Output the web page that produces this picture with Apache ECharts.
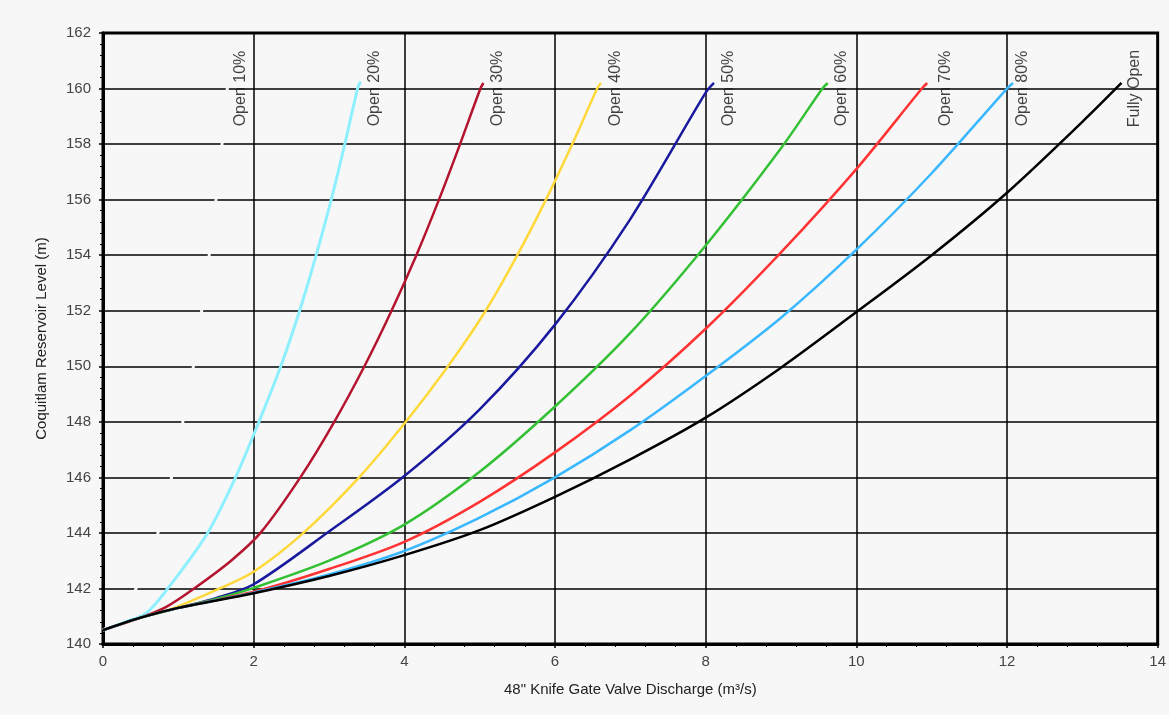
<!DOCTYPE html>
<html>
<head>
<meta charset="utf-8">
<script src="https://cdn.jsdelivr.net/npm/echarts@6/dist/echarts.min.js"></script>
<style>
  html, body { margin: 0; padding: 0; background: #f7f7f7; }
  #chart { width: 1169px; height: 715px; }
</style>
</head>
<body>
<div id="chart"></div>
<script>
// valve opening curves: discharge (m3/s) vs reservoir level (m)
const seriesNames = ['Open 10%', 'Open 20%', 'Open 30%', 'Open 40%', 'Open 50%', 'Open 60%', 'Open 70%', 'Open 80%', 'Fully Open'];

// the 10% curve is drawn in the background colour: it only shows where it cuts the grid
const open10X = [0, 0.2, 0.44, 0.73, 0.91, 1.06, 1.20, 1.31, 1.41, 1.50, 1.58, 1.65, 1.68];
const open10Y = [140.5, 140.9, 142, 144, 146, 148, 150, 152, 154, 156, 158, 160, 160.25];

const open20X = [0, 0.3, 0.57, 0.86, 1.39, 1.76, 2.07, 2.36, 2.61, 2.83, 3.03, 3.21, 3.38, 3.42];
const open20Y = [140.5, 140.8, 141.1, 142, 144, 146, 148, 150, 152, 154, 156, 158, 160, 160.25];

const open30X = [0, 0.5, 0.84, 1.21, 1.7, 2.09, 2.62, 3.07, 3.47, 3.83, 4.16, 4.46, 4.74, 5.01, 5.05];
const open30Y = [140.5, 140.95, 141.34, 142, 143, 144, 146, 148, 150, 152, 154, 156, 158, 160, 160.2];

const open40X = [0, 0.5, 0.9, 1.55, 2, 2.66, 3.40, 4.02, 4.58, 5.08, 5.50, 5.88, 6.23, 6.56, 6.61];
const open40Y = [140.5, 140.95, 141.25, 142, 142.6, 144, 146, 148, 150, 152, 154, 156, 158, 160, 160.2];

const open50X = [0, 0.5, 1, 1.5, 2, 3, 4, 5, 6, 7, 8, 8.11];
const open50Y = [140.5, 140.95, 141.3, 141.65, 142.15, 144.05, 146.05, 148.45, 151.5, 155.3, 159.85, 160.2];

const open60X = [0, 0.5, 1, 1.5, 2, 3, 4, 5, 6, 7, 8, 9, 9.55, 9.62];
const open60Y = [140.5, 140.95, 141.3, 141.62, 142.02, 143.0, 144.3, 146.2, 148.55, 151.2, 154.35, 157.85, 160, 160.2];

const open70X = [0, 0.5, 1, 2, 3, 4, 5, 6, 7, 8, 9, 10, 10.87, 10.94];
const open70Y = [140.5, 140.95, 141.3, 141.88, 142.7, 143.68, 145.12, 146.9, 148.95, 151.35, 154.1, 157.1, 160, 160.2];

const open80X = [0, 0.5, 1, 2, 3, 4, 5, 6, 7, 8, 9, 10, 11, 12, 12.08];
const open80Y = [140.5, 140.95, 141.3, 141.85, 142.5, 143.35, 144.55, 146.0, 147.7, 149.65, 151.75, 154.2, 156.95, 160.0, 160.2];

const fullX = [0, 0.5, 1, 2, 3, 4, 5, 6, 7, 8, 9, 10, 11, 12, 13, 13.52];
const fullY = [140.5, 140.95, 141.3, 141.83, 142.45, 143.2, 144.1, 145.3, 146.65, 148.15, 149.95, 151.95, 154.0, 156.25, 158.8, 160.2];

// where each curve's name is written (rotated text)
const labelX = [1.83, 3.61, 5.24, 6.80, 8.30, 9.80, 11.19, 12.21, 13.70];
const labelY = 160;

const xTicks = [0, 14, 2];   // min, max, interval
const yTicks = [140, 162, 2];

const bg = '#f7f7f7';
const colors = [bg, '#8ef0ff', '#b4142d', '#ffd83a', '#1a1a9e', '#34c034', '#ff3333', '#3ab8ff', '#000000'];
const allX = [open10X, open20X, open30X, open40X, open50X, open60X, open70X, open80X, fullX];
const allY = [open10Y, open20Y, open30Y, open40Y, open50Y, open60Y, open70Y, open80Y, fullY];

const pairs = (xs, ys) => xs.map((x, i) => [x, ys[i]]);

const font = '"Liberation Sans", Arial, sans-serif';

const lines = seriesNames.map((name, i) => ({
  name: name,
  type: 'line',
  data: pairs(allX[i], allY[i]),
  smooth: 0.3,
  showSymbol: false,
  lineStyle: { color: colors[i], width: i <= 1 ? 3 : 2.5 },
  z: 2 + i
}));

const labels = {
  type: 'scatter',
  symbolSize: 0,
  silent: true,
  data: seriesNames.map((n, i) => ({ name: n, value: [labelX[i], labelY] })),
  label: {
    show: true,
    position: 'inside',
    rotate: 90,
    formatter: p => p.name,
    color: '#111',
    fontFamily: font,
    fontSize: 16
  },
  z: 20
};

const chart = echarts.init(document.getElementById('chart'), null, { renderer: 'canvas' });
chart.setOption({
  animation: false,
  backgroundColor: bg,
  grid: {
    left: 103, top: 33, width: 1057, height: 611,
    show: true, borderColor: '#000', borderWidth: 3, backgroundColor: 'transparent'
  },
  xAxis: {
    type: 'value',
    min: xTicks[0], max: xTicks[1], interval: xTicks[2],
    name: '48" Knife Gate Valve Discharge (m³/s)',
    nameLocation: 'middle',
    nameGap: 38,
    nameTextStyle: { color: '#222', fontFamily: font, fontSize: 15 },
    axisLine: { lineStyle: { color: '#000', width: 3 } },
    axisTick: { show: true, inside: false, length: 4, lineStyle: { color: '#000', width: 1.5 } },
    minorTick: { show: true, splitNumber: 5, length: 3, lineStyle: { color: '#000', width: 1 } },
    axisLabel: { color: '#444', fontFamily: font, fontSize: 15, margin: 10 },
    splitLine: { show: true, lineStyle: { color: '#000', width: 1.5 } }
  },
  yAxis: {
    type: 'value',
    min: yTicks[0], max: yTicks[1], interval: yTicks[2],
    name: 'Coquitlam Reservoir Level (m)',
    nameLocation: 'middle',
    nameGap: 54,
    nameRotate: 90,
    nameTextStyle: { color: '#222', fontFamily: font, fontSize: 15 },
    axisLine: { show: true, lineStyle: { color: '#000', width: 3 } },
    axisTick: { show: true, inside: false, length: 4, lineStyle: { color: '#000', width: 1.5 } },
    minorTick: { show: true, splitNumber: 5, length: 3, lineStyle: { color: '#000', width: 1 } },
    axisLabel: { color: '#444', fontFamily: font, fontSize: 15, margin: 12 },
    splitLine: { show: true, lineStyle: { color: '#000', width: 1.5 } }
  },
  series: lines.concat([labels])
});
</script>
</body>
</html>
